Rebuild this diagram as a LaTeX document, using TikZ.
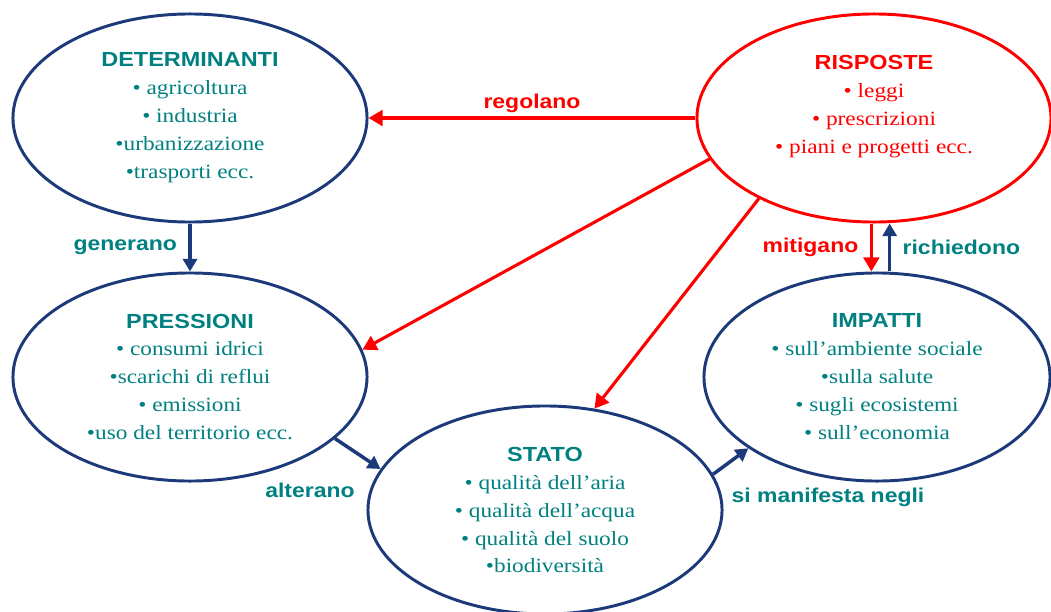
\documentclass[tikz,border=0pt]{standalone}
\usepackage{fontspec}
\setmainfont[FakeStretch=1.15]{Liberation Serif}
\setsansfont[FakeStretch=1.15]{Liberation Sans}
\usetikzlibrary{shapes.geometric, arrows.meta, positioning}
\definecolor{dpsirBlue}{RGB}{28, 58, 122}
\definecolor{dpsirTeal}{RGB}{0, 128, 128}
\definecolor{dpsirRed}{RGB}{255, 0, 0}
\newcommand{\boxtitle}[1]{{\fontsize{14.5}{19.9}\sffamily\bfseries #1}}
\tikzset{
    % Ellipse Styles
    phase/.style={
        ellipse,
        minimum width=8.85cm,
        minimum height=5.2cm,
        inner sep=0pt,
        align=center,
        line width=2.1pt,
        font=\fontsize{14.4}{19.9}\selectfont
    },
    phaseBlue/.style={phase, draw=dpsirBlue, text=dpsirTeal},
    phaseRed/.style={phase, draw=dpsirRed, text=dpsirRed},
    % Arrow & Label Styles
    flowBlue/.style={-{Triangle[length=9pt, width=10pt]}, line width=2.5pt, draw=dpsirBlue},
    flowRed/.style={-{Triangle[length=10pt, width=11pt]}, line width=2.2pt, draw=dpsirRed},
    verb/.style={font=\fontsize{14.2}{17}\sffamily\bfseries, text=dpsirTeal, inner sep=2pt}
}

\begin{document}
\begin{tikzpicture}[x=0.025cm, y=-0.025cm]

    \useasboundingbox (0,0) rectangle (1051,611);

    % --- LEFT COLUMN ---
    \node (determinanti) [phaseBlue] at (190,118) {
        \boxtitle{DETERMINANTI} \\
        • agricoltura \\
        • industria \\
        •urbanizzazione \\
        •trasporti ecc.
    };

    \node (pressioni) [phaseBlue] at (190,377) {
        \boxtitle{PRESSIONI} \\
        • consumi idrici \\
        •scarichi di reflui \\
        • emissioni \\
        •uso del territorio ecc.
    };

    % --- BOTTOM CENTRE ---
    \node (stato) [phaseBlue] at (545,510) {
        \boxtitle{STATO} \\
        • qualità dell’aria \\
        • qualità dell’acqua \\
        • qualità del suolo \\
        •biodiversità
    };

    % --- RIGHT COLUMN ---
    \node (risposte) [phaseRed] at (874,118) {
        \boxtitle{RISPOSTE} \\
        • leggi \\
        • prescrizioni \\
        • piani e progetti ecc. \\
        \mbox{}
    };

    \node (impatti) [phaseBlue, minimum width=8.65cm] at (877,377) {
        \boxtitle{IMPATTI} \\
        • sull’ambiente sociale \\
        •sulla salute \\
        • sugli ecosistemi \\
        • sull’economia
    };

    % --- Arrows (causal chain) ---
    \draw [flowBlue] (determinanti.south) -- node[verb, left=6pt] {generano} (pressioni.north);
    \draw [flowBlue] (pressioni.337.5) -- (stato.166);
    \draw [flowBlue] (stato.12.6) -- (impatti.209.6);
    \draw [flowBlue] ([xshift=9pt]impatti.north) -- node[verb, right=6pt] {richiedono} ([xshift=9pt]impatti.north |- risposte.south);

    % --- Arrows (responses) ---
    \draw [flowRed, line width=3pt] (risposte.west) -- node[verb, text=dpsirRed, above=0pt] {regolano} (determinanti.east);
    \draw [flowRed] (risposte.194.4) -- (pressioni.9);
    \draw [flowRed] (risposte.215.7) -- (stato.64.8);
    \draw [flowRed, line width=2.6pt] ([xshift=-4pt]impatti.north |- risposte.south) -- node[verb, text=dpsirRed, left=6pt] {mitigano} ([xshift=-4pt]impatti.north);

    % --- Free labels ---
    \node (lblAlterano) [verb] at (310,490) {alterano};
    \node (lblManifesta) [verb] at (828,497) {si manifesta negli};

\end{tikzpicture}
\end{document}
